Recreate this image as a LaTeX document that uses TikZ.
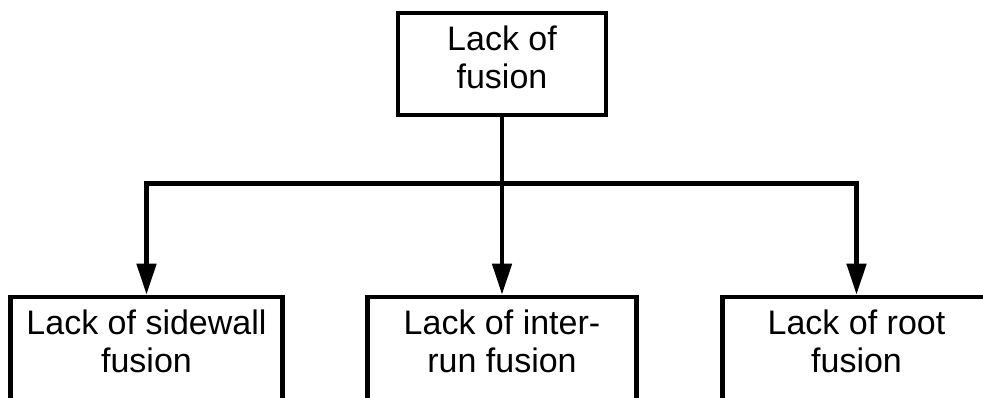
\documentclass[tikz,border=0pt]{standalone}
\usepackage{fontspec}
\setmainfont{Liberation Sans}
\usetikzlibrary{arrows.meta}
\begin{document}
\begin{tikzpicture}[x=1pt,y=-1pt,
  box/.style={draw=black, line width=4.5pt, rectangle, inner sep=0pt,
    minimum height=102pt, align=center,
    font=\fontsize{34}{38}\selectfont, text depth=14pt},
  lowbox/.style={box, minimum height=118pt, text depth=30pt},
  conn/.style={draw=black, line width=4.5pt},
  arr/.style={conn, -{Triangle[width=19pt,length=31pt]}}]
\useasboundingbox (0,0) rectangle (983,398);
\begin{scope}
\clip (0,0) rectangle (983,398);
\node[box, minimum width=208pt] (top) at (502,64) {Lack of\\fusion};
\node[lowbox, minimum width=272pt] (left) at (146.5,356) {Lack of sidewall\\fusion};
\node[lowbox, minimum width=269pt] (mid) at (502,356) {Lack of inter-\\run fusion};
\node[lowbox, minimum width=268pt] (right) at (856.5,356) {Lack of root\\fusion};
\coordinate (hub) at (502,183.5);
\draw[conn] (top.south) -- (hub);
\draw[arr] (hub) -| (left.north);
\draw[arr] (hub) -- (mid.north);
\draw[arr] (hub) -| (right.north);
\end{scope}
\end{tikzpicture}
\end{document}
